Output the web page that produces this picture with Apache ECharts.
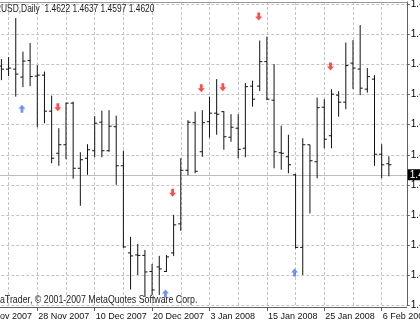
<!DOCTYPE html>
<html><head><meta charset="utf-8">
<script src="https://cdn.jsdelivr.net/npm/echarts@6/dist/echarts.min.js"></script>
<style>html,body{margin:0;padding:0;background:#fff;overflow:hidden}#c{width:420px;height:323px}</style>
</head><body><div id="c"></div>
<script>
// ---- data ----
const symbolName = 'EURUSD,Daily';
const copyright = 'MetaTrader, \u00a9 2001-2007 MetaQuotes Software Corp.';
const leadDates = ['16 Nov 2007','19 Nov 2007','20 Nov 2007'];
const barDates = ['21 Nov 2007','22 Nov 2007','23 Nov 2007','26 Nov 2007','27 Nov 2007','28 Nov 2007','29 Nov 2007','30 Nov 2007',
 '3 Dec 2007','4 Dec 2007','5 Dec 2007','6 Dec 2007','7 Dec 2007','10 Dec 2007','11 Dec 2007','12 Dec 2007','13 Dec 2007','14 Dec 2007',
 '17 Dec 2007','18 Dec 2007','19 Dec 2007','20 Dec 2007','21 Dec 2007','24 Dec 2007','26 Dec 2007','27 Dec 2007','28 Dec 2007','31 Dec 2007',
 '2 Jan 2008','3 Jan 2008','4 Jan 2008','7 Jan 2008','8 Jan 2008','9 Jan 2008','10 Jan 2008','11 Jan 2008','14 Jan 2008','15 Jan 2008',
 '16 Jan 2008','17 Jan 2008','18 Jan 2008','21 Jan 2008','22 Jan 2008','23 Jan 2008','24 Jan 2008','25 Jan 2008','28 Jan 2008','29 Jan 2008',
 '30 Jan 2008','31 Jan 2008','1 Feb 2008','4 Feb 2008','5 Feb 2008','6 Feb 2008','7 Feb 2008'];
const trailDates = ['8 Feb 2008','11 Feb 2008'];
const open  = [1.4817,1.4811,1.4811,1.4795,1.4828,1.4797,1.4799,1.4727,1.4643,1.4660,1.4743,1.4613,1.4633,1.4648,1.4705,1.4648,1.4696,1.4618,1.4444,1.4440,1.4439,1.4407,1.4416,1.4407,1.4444,1.4502,1.4609,1.4704,1.4646,1.4706,1.4723,1.4726,1.4675,1.4693,1.4653,1.4777,1.4777,1.4826,1.4749,1.4644,1.4636,1.4600,1.4455,1.4660,1.4626,1.4735,1.4678,1.4759,1.4745,1.4823,1.4811,1.4771,1.4791,1.4641,1.4622];
const high  = [1.4831,1.4835,1.4913,1.4846,1.4863,1.4819,1.4806,1.4758,1.4693,1.4744,1.4746,1.4645,1.4661,1.4717,1.4728,1.4729,1.4718,1.4648,1.4476,1.4462,1.4450,1.4422,1.4438,1.4440,1.4520,1.4633,1.4709,1.4726,1.4729,1.4756,1.4791,1.4727,1.4721,1.4721,1.4783,1.4788,1.4868,1.4876,1.4821,1.4698,1.4680,1.4602,1.4673,1.4660,1.4754,1.4751,1.4771,1.4767,1.4864,1.4869,1.4899,1.4813,1.4799,1.4661,1.4637];
const low   = [1.4789,1.4797,1.4756,1.4775,1.4777,1.4695,1.4703,1.4623,1.4618,1.4631,1.4592,1.4538,1.4600,1.4635,1.4635,1.4646,1.4580,1.4454,1.4371,1.4400,1.4356,1.4360,1.4360,1.4406,1.4438,1.4488,1.4599,1.4603,1.4636,1.4674,1.4680,1.4650,1.4666,1.4633,1.4635,1.4736,1.4767,1.4749,1.4613,1.4610,1.4603,1.4453,1.4400,1.4523,1.4593,1.4653,1.4653,1.4716,1.4731,1.4771,1.4759,1.4764,1.4618,1.4593,1.4597];
const close = [1.4811,1.4813,1.4801,1.4827,1.4796,1.4799,1.4727,1.4633,1.4660,1.4743,1.4613,1.4630,1.4650,1.4703,1.4648,1.4697,1.4618,1.4456,1.4438,1.4439,1.4406,1.4370,1.4412,1.4436,1.4500,1.4609,1.4705,1.4607,1.4704,1.4723,1.4721,1.4676,1.4695,1.4651,1.4776,1.4751,1.4826,1.4751,1.4646,1.4643,1.4620,1.4455,1.4660,1.4628,1.4734,1.4671,1.4761,1.4745,1.4818,1.4813,1.4773,1.4796,1.4641,1.4620,1.4620];
const fractalUp   = [['26 Nov 2007',1.4732],['24 Dec 2007',1.4363],['21 Jan 2008',1.4405]];
const fractalDown = [['3 Dec 2007',1.4735],['26 Dec 2007',1.4564],['2 Jan 2008',1.4773],['7 Jan 2008',1.4775],['14 Jan 2008',1.4916],['28 Jan 2008',1.4816]];
const priceMin = 1.434, priceMax = 1.4945, priceStep = 0.006;

// ---- chart ----
const FONT = "'Liberation Sans',Arial,sans-serif";
const categories = leadDates.concat(barDates, trailDates);
const last = barDates.length - 1;
const ohlcData = barDates.map((d, i) => [d, open[i], close[i], low[i], high[i]]);
const headerText = symbolName + '  ' + [open[last], high[last], low[last], close[last]].map(v => v.toFixed(4)).join(' ');

function renderOHLC(params, api) {
  const xv = api.value(0);
  const x = api.coord([xv, api.value(1)])[0];
  const yo = api.coord([xv, api.value(1)])[1];
  const yc = api.coord([xv, api.value(2)])[1];
  const yl = api.coord([xv, api.value(3)])[1];
  const yh = api.coord([xv, api.value(4)])[1];
  const st = { stroke: '#111', lineWidth: 1 };
  return { type: 'group', children: [
    { type: 'line', shape: { x1: x, y1: yh, x2: x, y2: yl }, style: st },
    { type: 'line', shape: { x1: x - 2.6, y1: yo, x2: x, y2: yo }, style: st },
    { type: 'line', shape: { x1: x, y1: yc, x2: x + 2.6, y2: yc }, style: st }
  ]};
}
const upPath = 'path://M3,10 L7,10 L7,5 L10,5 L5,0 L0,5 L3,5 Z';
const downPath = 'path://M3,0 L7,0 L7,5 L10,5 L5,10 L0,5 L3,5 Z';
const dash = { color: '#c4c4c4', type: [3, 2], width: 1 };

const chart = echarts.init(document.getElementById('c'), null, { renderer: 'canvas' });
chart.setOption({
  animation: false,
  backgroundColor: '#fff',
  grid: { left: -23.7, right: 13.2, top: 2, bottom: 18, containLabel: false, outerBoundsMode: 'none' },
  xAxis: [{
    type: 'category', data: categories, boundaryGap: true, position: 'bottom', offset: 2,
    axisLine: { show: true, lineStyle: { color: '#606060', width: 1 } },
    axisTick: { show: true, interval: 7, alignWithLabel: true, length: 4, lineStyle: { color: '#606060' } },
    axisLabel: { interval: 7, showMinLabel: true, align: 'left', margin: 5, color: '#111', fontSize: 9, fontFamily: FONT, padding: [0, 0, 0, 1] },
    splitLine: { show: true, interval: 3, alignWithLabel: true, lineStyle: dash }
  }, {
    type: 'category', data: categories, boundaryGap: true, position: 'top',
    axisLine: { show: true, lineStyle: { color: '#9a9a9a', width: 1 } },
    axisTick: { show: false }, axisLabel: { show: false }, splitLine: { show: false }
  }],
  yAxis: {
    type: 'value', position: 'right', min: priceMin, max: priceMax, interval: priceStep,
    axisLine: { show: true, lineStyle: { color: '#606060', width: 1 } },
    axisTick: { show: true, length: 3, lineStyle: { color: '#606060' } },
    axisLabel: { margin: 4, color: '#000', fontSize: 10, fontFamily: FONT, showMaxLabel: false, formatter: v => v.toFixed(4) },
    splitLine: { show: true, lineStyle: dash }
  },
  graphic: [
    { type: 'text', x: -16.8, y: 3.5, scaleX: 0.765, z: 50, style: { text: headerText, fill: '#222', font: '11px ' + FONT } },
    { type: 'text', x: -14.7, y: 294, scaleX: 0.8, z: 50, style: { text: copyright, fill: '#222', font: '11px ' + FONT } }
  ],
  series: [
    { type: 'custom', name: 'EURUSD', renderItem: renderOHLC, data: ohlcData, encode: { x: 0, y: [1, 2, 3, 4] }, z: 5 },
    { type: 'scatter', name: 'Fractal up', data: fractalUp, symbol: upPath, symbolSize: [7, 8], symbolOffset: [-1, 0],
      itemStyle: { color: '#4a78f0' }, z: 6,
      markLine: { silent: true, symbol: ['none', 'none'], animation: false,
        lineStyle: { color: '#bdbdbd', type: 'solid', width: 1 },
        label: { show: true, position: 'end', distance: 1, formatter: close[last].toFixed(4), color: '#fff', backgroundColor: '#000',
          padding: [1, 2, 0, 2], fontSize: 10, fontFamily: FONT },
        data: [{ yAxis: close[last] }] } },
    { type: 'scatter', name: 'Fractal down', data: fractalDown, symbol: downPath, symbolSize: [7, 8], symbolOffset: [-1, 0],
      itemStyle: { color: '#ff2020' }, z: 6 }
  ]
});
</script></body></html>
